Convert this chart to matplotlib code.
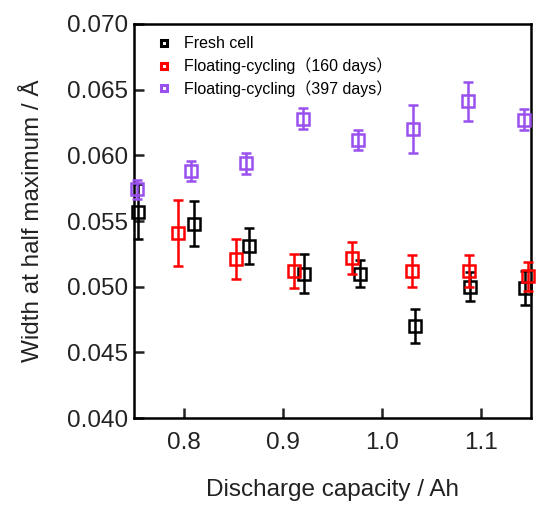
import matplotlib.pyplot as plt

plt.rcParams['font.family'] = ['Liberation Sans', 'Noto Sans CJK JP', 'DejaVu Sans']

# Fresh cell
x_fresh = [0.754, 0.810, 0.866, 0.921, 0.978, 1.033, 1.089, 1.144]
y_fresh = [0.0557, 0.0548, 0.0531, 0.0510, 0.0510, 0.0470, 0.0500, 0.0499]
e_fresh = [0.0021, 0.0017, 0.0014, 0.0015, 0.0010, 0.0013, 0.0011, 0.0013]

# Floating-cycling 160 days
x_160 = [0.794, 0.853, 0.911, 0.970, 1.030, 1.088, 1.147]
y_160 = [0.0541, 0.0521, 0.0512, 0.0522, 0.0512, 0.0512, 0.0508]
e_160 = [0.0025, 0.0015, 0.0013, 0.0012, 0.0012, 0.0012, 0.0011]

# Floating-cycling 397 days
x_397 = [0.753, 0.807, 0.863, 0.920, 0.976, 1.031, 1.087, 1.143]
y_397 = [0.0574, 0.0588, 0.0594, 0.0628, 0.0612, 0.0620, 0.0641, 0.0627]
e_397 = [0.0007, 0.00075, 0.0008, 0.0008, 0.00076, 0.0018, 0.0015, 0.0008]

labels = ['Fresh cell', 'Floating-cycling（160 days）', 'Floating-cycling（397 days）']
colors = ['black', '#ff0000', '#9a50ee']

fig = plt.figure(figsize=(5.36, 5.07), dpi=100)
ax = fig.add_axes([0.25, 0.1755, 0.7407, 0.7772])

series = [(x_fresh, y_fresh, e_fresh), (x_160, y_160, e_160), (x_397, y_397, e_397)]
for i in [1, 2, 0]:
    xs, ys, es = series[i]
    ax.errorbar(xs, ys, yerr=es, fmt='s', ms=9, mfc='none', mec=colors[i], mew=1.8,
                ecolor=colors[i], elinewidth=1.8, capsize=3.3, capthick=1.8,
                label=labels[i], clip_on=False, zorder=3 + i)

ax.set_xlim(0.75, 1.15)
ax.set_ylim(0.040, 0.070)
ax.set_xticks([0.8, 0.9, 1.0, 1.1])
ax.set_yticks([0.040, 0.045, 0.050, 0.055, 0.060, 0.065, 0.070])
ax.set_yticklabels(['0.040', '0.045', '0.050', '0.055', '0.060', '0.065', '0.070'])
ax.tick_params(direction='in', length=7, width=1.8, labelsize=17.5, colors='#222222')
ax.tick_params(axis='x', pad=10)
ax.tick_params(axis='y', pad=4)
for s in ax.spines.values():
    s.set_linewidth(1.8)

ax.set_xlabel('Discharge capacity / Ah', fontsize=17.5, labelpad=18, color='#222222')
ax.set_ylabel('Width at half maximum / Å', fontsize=17.5, labelpad=17, color='#222222')

hs = [ax.plot([], [], 's', ms=5, mfc='none', mec=c, mew=2.2)[0] for c in colors]
ax.legend(hs, labels, loc='upper left', frameon=False, fontsize=11.5,
          handlelength=1.0, handletextpad=0.75, labelspacing=0.38,
          bbox_to_anchor=(0.02, 1.005))

fig.savefig('out.png', dpi=100)
